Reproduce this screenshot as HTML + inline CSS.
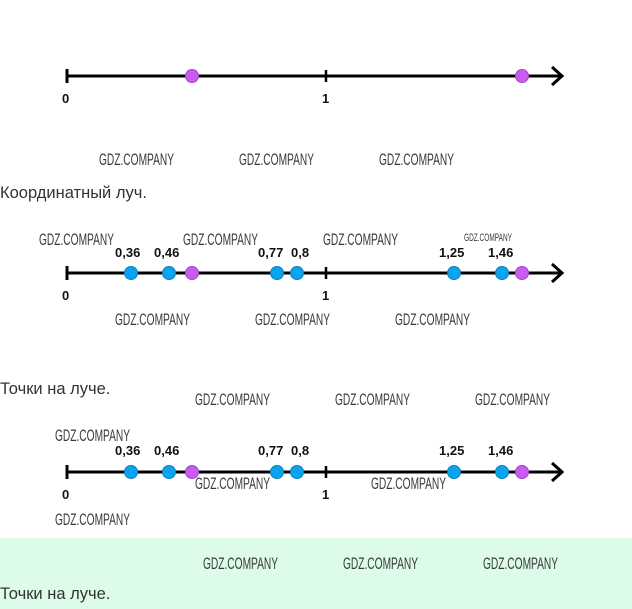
<!DOCTYPE html>
<html><head><meta charset="utf-8"><style>
html,body{margin:0;padding:0;background:#fff;}
svg{display:block;}
.w{font-family:"Liberation Sans",sans-serif;font-size:17px;fill:#3a3a3a;}
.s{font-size:11px;}
.n{font-family:"Liberation Sans",sans-serif;font-size:13px;font-weight:bold;fill:#111;}
.t{font-family:"Liberation Sans","DejaVu Sans",sans-serif;font-size:16.5px;fill:#333;}
</style></head><body>
<svg width="632" height="609" viewBox="0 0 632 609" xmlns="http://www.w3.org/2000/svg">
<rect x="0" y="538" width="632" height="71" fill="#dcfce9"/>
<defs>
<g id="ax">
<line x1="67" y1="0" x2="561" y2="0" stroke="#000" stroke-width="3"/>
<line x1="67" y1="-7" x2="67" y2="7" stroke="#000" stroke-width="3"/>
<line x1="326" y1="-6" x2="326" y2="6" stroke="#000" stroke-width="2.5"/>
<polyline points="552,-9 562,0 552,9" fill="none" stroke="#000" stroke-width="3"/>
</g>
<circle id="b" r="6.5" fill="#0aa4ee" stroke="#0a7fc0" stroke-width="1"/>
<circle id="p" r="6.5" fill="#c85cf0" stroke="#a045c8" stroke-width="1"/>
</defs>
<use href="#ax" y="76"/>
<use href="#p" x="192" y="76"/><use href="#p" x="522" y="76"/>
<text class="n" x="62" y="103">0</text><text class="n" x="322" y="103">1</text>
<text class="w" x="99" y="165" textLength="75" lengthAdjust="spacingAndGlyphs">GDZ.COMPANY</text>
<text class="w" x="239" y="165" textLength="75" lengthAdjust="spacingAndGlyphs">GDZ.COMPANY</text>
<text class="w" x="379" y="165" textLength="75" lengthAdjust="spacingAndGlyphs">GDZ.COMPANY</text>
<text class="t" x="0" y="198">Координатный луч.</text>
<text class="w" x="39" y="245" textLength="75" lengthAdjust="spacingAndGlyphs">GDZ.COMPANY</text>
<text class="w" x="183" y="245" textLength="75" lengthAdjust="spacingAndGlyphs">GDZ.COMPANY</text>
<text class="w" x="323" y="245" textLength="75" lengthAdjust="spacingAndGlyphs">GDZ.COMPANY</text>
<text class="w s" x="464" y="241" textLength="48" lengthAdjust="spacingAndGlyphs">GDZ.COMPANY</text>
<text class="n" x="115" y="257">0,36</text><text class="n" x="154" y="257">0,46</text>
<text class="n" x="258" y="257">0,77</text><text class="n" x="291" y="257">0,8</text>
<text class="n" x="439" y="257">1,25</text><text class="n" x="488" y="257">1,46</text>
<use href="#ax" y="273"/>
<use href="#b" x="131" y="273"/><use href="#b" x="169" y="273"/><use href="#p" x="192" y="273"/>
<use href="#b" x="277" y="273"/><use href="#b" x="297" y="273"/>
<use href="#b" x="454" y="273"/><use href="#b" x="502" y="273"/><use href="#p" x="522" y="273"/>
<text class="n" x="62" y="300">0</text><text class="n" x="322" y="300">1</text>
<text class="w" x="115" y="325" textLength="75" lengthAdjust="spacingAndGlyphs">GDZ.COMPANY</text>
<text class="w" x="255" y="325" textLength="75" lengthAdjust="spacingAndGlyphs">GDZ.COMPANY</text>
<text class="w" x="395" y="325" textLength="75" lengthAdjust="spacingAndGlyphs">GDZ.COMPANY</text>
<text class="t" x="0" y="394">Точки на луче.</text>
<text class="w" x="195" y="405" textLength="75" lengthAdjust="spacingAndGlyphs">GDZ.COMPANY</text>
<text class="w" x="335" y="405" textLength="75" lengthAdjust="spacingAndGlyphs">GDZ.COMPANY</text>
<text class="w" x="475" y="405" textLength="75" lengthAdjust="spacingAndGlyphs">GDZ.COMPANY</text>
<text class="w" x="55" y="441" textLength="75" lengthAdjust="spacingAndGlyphs">GDZ.COMPANY</text>
<text class="n" x="115" y="455">0,36</text><text class="n" x="154" y="455">0,46</text>
<text class="n" x="258" y="455">0,77</text><text class="n" x="291" y="455">0,8</text>
<text class="n" x="439" y="455">1,25</text><text class="n" x="488" y="455">1,46</text>
<use href="#ax" y="472"/>
<use href="#b" x="131" y="472"/><use href="#b" x="169" y="472"/><use href="#p" x="192" y="472"/>
<use href="#b" x="277" y="472"/><use href="#b" x="297" y="472"/>
<use href="#b" x="454" y="472"/><use href="#b" x="502" y="472"/><use href="#p" x="522" y="472"/>
<text class="w" x="195" y="489" textLength="75" lengthAdjust="spacingAndGlyphs">GDZ.COMPANY</text>
<text class="w" x="371" y="489" textLength="75" lengthAdjust="spacingAndGlyphs">GDZ.COMPANY</text>
<text class="n" x="62" y="499">0</text><text class="n" x="322" y="499">1</text>
<text class="w" x="55" y="525" textLength="75" lengthAdjust="spacingAndGlyphs">GDZ.COMPANY</text>
<text class="w" x="203" y="569" textLength="75" lengthAdjust="spacingAndGlyphs">GDZ.COMPANY</text>
<text class="w" x="343" y="569" textLength="75" lengthAdjust="spacingAndGlyphs">GDZ.COMPANY</text>
<text class="w" x="483" y="569" textLength="75" lengthAdjust="spacingAndGlyphs">GDZ.COMPANY</text>
<text class="t" x="0" y="599">Точки на луче.</text>
</svg>
</body></html>
